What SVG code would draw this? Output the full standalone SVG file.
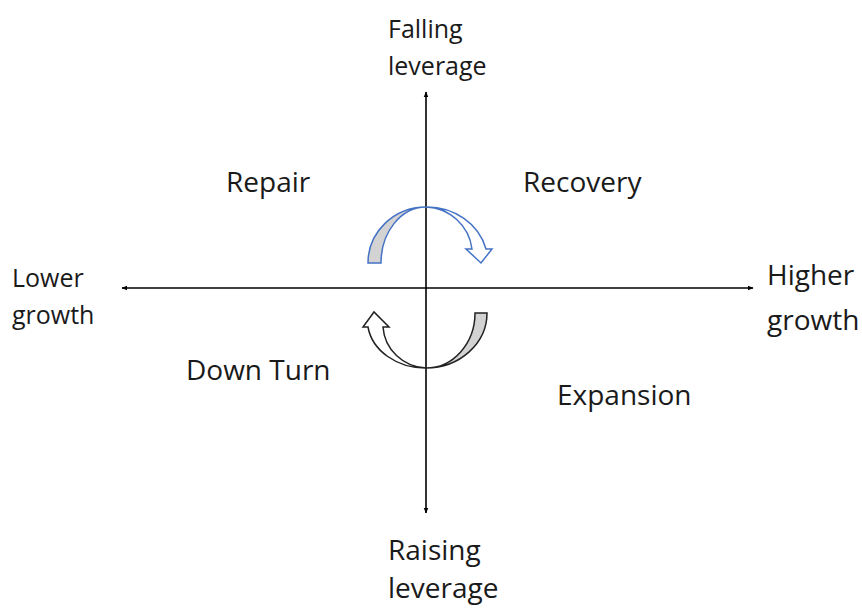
<svg xmlns="http://www.w3.org/2000/svg" width="862" height="609" viewBox="0 0 862 609">
<defs>
<style>
text{font-family:"Open Sans","Noto Sans",sans-serif;fill:#1a1a1a;font-size:28px}
.sm{font-size:25px}
.axis{stroke:#000;stroke-width:1.6;fill:none}
</style>
<marker id="ah" viewBox="0 0 10 10" refX="9" refY="5" markerWidth="6" markerHeight="6" orient="auto-start-reverse" markerUnits="userSpaceOnUse">
<path d="M0,1 L10,5 L0,9 Z" fill="#000"/>
</marker>
</defs>
<rect width="862" height="609" fill="#fff"/>
<g id="connectors">
<line class="axis" x1="426" y1="513" x2="426" y2="92" marker-start="url(#ah)" marker-end="url(#ah)"/>
<line class="axis" x1="122" y1="288" x2="753" y2="288" marker-start="url(#ah)" marker-end="url(#ah)"/>
</g>
<g id="cycle-top">
<path d="M368,263 A58,56 0 0 1 426,207 A45,56 0 0 0 381,263 Z" fill="#d3d3d3" stroke="#4472c4" stroke-width="1.5"/>
<path d="M426,207 A61,56 0 0 1 486,249 L492,249 L481,263 L466,249 L472,249 A48,48 0 0 0 426,207 Z" fill="#fff" stroke="#4472c4" stroke-width="1.5"/>
</g>
<g id="cycle-bottom">
<path d="M487,313 A61,55 0 0 1 426,368 A49,55 0 0 0 475,313 Z" fill="#d3d3d3" stroke="#222" stroke-width="1.5"/>
<path d="M426,368 A58,48 0 0 1 368,327 L363,327 L374,312 L389,327 L383,327 A45,44 0 0 0 426,368 Z" fill="#fff" stroke="#222" stroke-width="1.5"/>
</g>
<g id="label-falling"><text class="sm" x="388" y="38">Falling</text><text class="sm" x="388" y="75">leverage</text></g>
<g id="label-raising"><text x="388" y="560">Raising</text><text x="388" y="598">leverage</text></g>
<g id="label-lower"><text class="sm" x="12" y="287">Lower</text><text class="sm" x="12" y="324">growth</text></g>
<g id="label-higher"><text x="767" y="285">Higher</text><text x="767" y="330">growth</text></g>
<g id="repair"><text x="226" y="192">Repair</text></g>
<g id="recovery"><text x="523" y="192">Recovery</text></g>
<g id="downturn"><text x="186" y="380">Down Turn</text></g>
<g id="expansion"><text x="557" y="405">Expansion</text></g>
</svg>
